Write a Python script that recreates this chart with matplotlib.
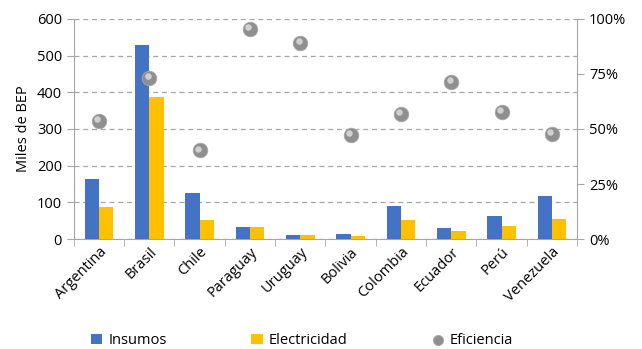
import matplotlib.pyplot as plt
import numpy as np
from matplotlib.ticker import PercentFormatter

plt.rcParams['font.family'] = ['Open Sans', 'DejaVu Sans']

paises = ['Argentina', 'Brasil', 'Chile', 'Paraguay', 'Uruguay', 'Bolivia',
          'Colombia', 'Ecuador', 'Perú', 'Venezuela']
insumos = [163, 529, 126, 33, 12, 14, 90, 30, 64, 118]
electricidad = [87, 386, 51, 33, 12, 7, 51, 23, 35, 56]
eficiencia = [53.8, 73.2, 40.3, 95.5, 89.0, 47.2, 56.7, 71.5, 57.6, 47.6]

fig = plt.figure(figsize=(6.42, 3.49), dpi=100)
ax = fig.add_axes([0.115, 0.315, 0.784, 0.631])
ax2 = ax.twinx()

x = np.arange(len(paises))
w = 0.285
ax.bar(x - w / 2, insumos, w, color='#4472c4', label='Insumos', zorder=3)
ax.bar(x + w / 2, electricidad, w, color='#ffc000', label='Electricidad', zorder=3)

ax.set_xlim(-0.5, len(paises) - 0.5)
ax.set_ylim(0, 600)
ax.set_yticks(range(0, 601, 100))
ax.yaxis.grid(True, linestyle=(0, (4, 3)), color='#a6a6a6', linewidth=0.9, zorder=0)
ax.set_ylabel('Miles de BEP', fontsize=10.5)

ax.set_xticks(x)
ax.set_xticklabels(paises, rotation=45, ha='right', rotation_mode='anchor', fontsize=10.5)
ax.set_xticks(np.arange(-0.5, len(paises)), minor=True)
ax.tick_params(axis='x', which='major', length=0, pad=4)
ax.tick_params(axis='x', which='minor', length=5, color='#a6a6a6')
ax.tick_params(axis='y', length=5, color='#a6a6a6', labelsize=10.5)

for s in ['top', 'right']:
    ax.spines[s].set_visible(False)
for s in ['top', 'left', 'bottom']:
    ax2.spines[s].set_visible(False)
ax.spines['left'].set_color('#a6a6a6')
ax.spines['bottom'].set_color('#a6a6a6')
ax2.spines['right'].set_color('#a6a6a6')

ax2.scatter(x, eficiencia, s=110, color='#8f8f8f', edgecolor='#a8a8a8',
            linewidth=0.6, zorder=4, label='Eficiencia')
ax2.scatter(x - 0.03, [e + 0.8 for e in eficiencia], s=22, color='#d0d0d0',
            linewidth=0, zorder=5)
ax2.set_ylim(0, 100)
ax2.set_yticks(range(0, 101, 25))
ax2.yaxis.set_major_formatter(PercentFormatter(decimals=0))
ax2.tick_params(axis='y', length=5, color='#a6a6a6', labelsize=10.5)

h1, l1 = ax.get_legend_handles_labels()
h2, l2 = ax2.get_legend_handles_labels()
fig.legend(h1 + h2, l1 + l2, loc='lower center', bbox_to_anchor=(0.47, -0.035), ncol=3,
           frameon=False, fontsize=10.5, columnspacing=5.8, handlelength=0.8,
           handletextpad=0.4, markerscale=0.7)

fig.savefig('out.png', dpi=100)
